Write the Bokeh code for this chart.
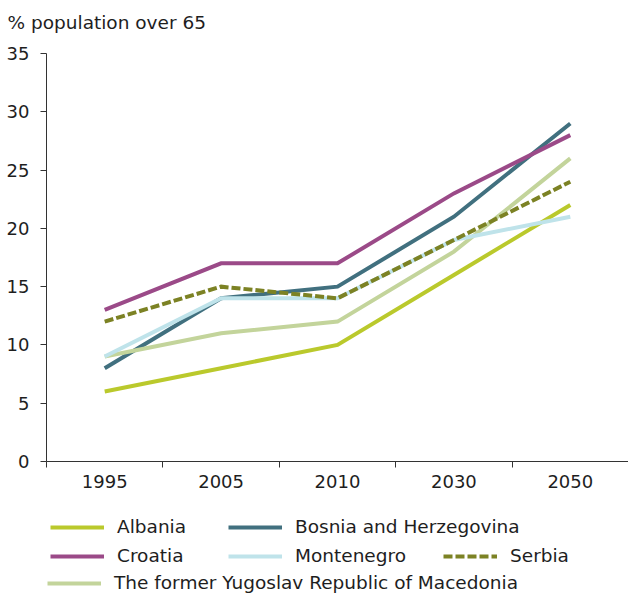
from bokeh.plotting import figure
from bokeh.models import Range1d, FixedTicker, Legend, LegendItem
from bokeh.layouts import column
from bokeh.embed import file_html
from bokeh.resources import INLINE

# ---- data ----
years = ["1995", "2005", "2010", "2030", "2050"]
albania = [6, 8, 10, 16, 22]
bosnia = [8, 14, 15, 21, 29]
croatia = [13, 17, 17, 23, 28]
fyrom = [9, 11, 12, 18, 26]
montenegro = [9, 14, 14, 19, 21]
serbia = [12, 15, 14, 19, 24]
y_ticks = [0, 5, 10, 15, 20, 25, 30, 35]
y_title = "% population over 65"

FONT = "DejaVu Sans"
TXT = "#1e1e1e"
AX = "#333333"

xs = list(range(1, len(years) + 1))

p = figure(width=628, height=500,
           x_range=Range1d(0.5, len(years) + 0.5), y_range=Range1d(0, 35),
           output_backend="svg", toolbar_location=None,
           min_border_left=46, min_border_right=0,
           min_border_top=53, min_border_bottom=39)
p.xgrid.visible = False
p.ygrid.visible = False
p.outline_line_color = None

# title (two-line trick keeps it high above the frame)
p.title.text = y_title + "\n"
p.title.align = "left"
p.title.offset = -39
p.title.standoff = 0
p.title.vertical_align = "bottom"
p.title.text_font = FONT
p.title.text_font_size = "18.5px"
p.title.text_font_style = "normal"
p.title.text_color = TXT

# x axis: labels at category centres, ticks at category boundaries
p.xaxis.ticker = FixedTicker(ticks=xs, minor_ticks=[x - 0.5 for x in xs] + [xs[-1] + 0.5])
p.xaxis.major_label_overrides = {x: y for x, y in zip(xs, years)}
p.xaxis.major_tick_line_color = None
p.xaxis.major_tick_out = 0
p.xaxis.major_tick_in = 0
p.xaxis.major_label_standoff = 7
p.xaxis.minor_tick_out = 6
p.xaxis.minor_tick_in = 0
p.xaxis.minor_tick_line_color = AX

p.yaxis.ticker = FixedTicker(ticks=y_ticks, minor_ticks=[])
p.yaxis.major_tick_out = 6
p.yaxis.major_tick_in = 0
p.yaxis.major_label_standoff = 11
p.yaxis.minor_tick_line_color = None
p.yaxis.major_tick_line_color = AX

for ax in (p.xaxis, p.yaxis):
    ax.axis_line_color = AX
    ax.major_label_text_font = FONT
    ax.major_label_text_font_size = "18px"
    ax.major_label_text_color = TXT

series = [
    ("Albania", albania, "#bac92c", None),
    ("Bosnia and Herzegovina", bosnia, "#41707f", None),
    ("Croatia", croatia, "#9b4a88", None),
    ("The former Yugoslav Republic of Macedonia", fyrom, "#c3d49b", None),
    ("Montenegro", montenegro, "#bfe3ea", None),
    ("Serbia", serbia, "#7c8224", "9 3"),
]

def style(col, dash):
    kw = dict(line_color=col, line_width=4, line_join="miter")
    if dash:
        kw["line_dash"] = dash
    return kw

for name, vals, col, dash in series:
    p.line(xs, vals, **style(col, dash))

# ---- legend strip below the chart ----
# (sample lines carry the series but lie outside this strip's visible range)
lg = figure(width=628, height=95, x_range=Range1d(0, 1), y_range=Range1d(-2, -1),
            output_backend="svg", toolbar_location=None,
            min_border=0, x_axis_location=None, y_axis_location=None)
lg.xgrid.visible = False
lg.ygrid.visible = False
lg.outline_line_color = None

sample = {}
for name, vals, col, dash in series:
    sample[name] = lg.line(xs, vals, **style(col, dash))

# bottom-left corner of each legend entry, pixels from the strip frame (y up)
legend_pos = {
    "Albania": (4, 58),
    "Bosnia and Herzegovina": (182, 58),
    "Croatia": (4, 29),
    "Montenegro": (182, 29),
    "Serbia": (397, 29),
    "The former Yugoslav Republic of Macedonia": (1, 2),
}
for name, loc in legend_pos.items():
    leg = Legend(items=[LegendItem(label=name, renderers=[sample[name]])],
                 location=loc, orientation="horizontal",
                 padding=0, margin=0, spacing=0,
                 glyph_width=54, glyph_height=20, label_height=20,
                 label_standoff=13,
                 label_text_font=FONT, label_text_font_size="18.5px",
                 label_text_color=TXT,
                 border_line_color=None, background_fill_alpha=0)
    lg.add_layout(leg, "center")

page = column(p, lg, spacing=0)
open("out.html", "w").write(file_html(page, INLINE))
